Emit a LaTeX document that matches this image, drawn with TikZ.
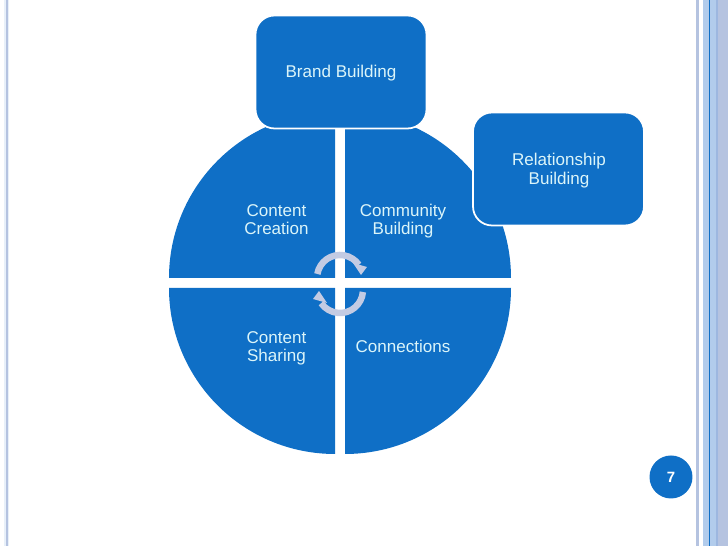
\documentclass[tikz,border=0pt]{standalone}
\usepackage{fontspec}
\setmainfont{Liberation Sans}
\usepackage{tikz}
\usetikzlibrary{positioning}
\usepackage{xcolor}
\definecolor{flowblue}{HTML}{0F6FC6}
\definecolor{flowtext}{HTML}{DBF5F9}
\definecolor{flowgrey}{HTML}{B5C3E0}
\definecolor{flowpale}{HTML}{B2CCEC}
\definecolor{flowmid}{HTML}{9DB7E0}
\definecolor{flowcycle}{HTML}{C3CBE3}
\tikzset{
  slice/.style={fill=flowblue},
  slicetext/.style={text=flowtext, align=center, font=\fontsize{9.7}{10.6}\selectfont},
  bigbox/.style={draw=white, line width=0.035cm, fill=flowblue, rounded corners=0.38cm, minimum width=3.42cm, minimum height=2.26cm, inner sep=0pt},
  cyclearrow/.style={draw=flowcycle, line width=0.13cm},
  cyclehead/.style={fill=flowcycle}
}
\begin{document}
\begin{tikzpicture}[x=0.02cm, y=0.02cm]
\useasboundingbox (0,0) rectangle (728,546);
% side stripes
\fill[flowpale!30] (4,0) rectangle (9,546);
\fill[flowgrey] (5.5,0) rectangle (8,546);
\fill[flowgrey] (696,0) rectangle (699,546);
\fill[flowpale] (703,0) rectangle (716,546);
\fill[flowblue] (709,0) rectangle (710,546);
\fill[flowmid] (716,0) rectangle (718,546);
\fill[flowgrey] (718,0) rectangle (728,546);
% four quarters
\fill[slice] (335,268) -- (169,268) arc (180:90:166) -- cycle;
\fill[slice] (345,268) -- (345,434) arc (90:0:166) -- cycle;
\fill[slice] (335,258) -- (335,92) arc (270:180:166) -- cycle;
\fill[slice] (345,258) -- (511,258) arc (0:-90:166) -- cycle;
% cycle arrows
\draw[cyclearrow] (317.35,272) arc (170:35:23);
\fill[cyclehead] (367,279) -- (361,271) -- (353,283) -- cycle;
\draw[cyclearrow] (362.9,254) arc (-5:-145:23);
\fill[cyclehead] (313,247) -- (319,255) -- (327,243) -- cycle;
\node[bigbox] (brand) at (341,474) {};
\node[bigbox] (relation) at (558.5,377) {};
\node[slicetext] (brandtext) at (341,473) {Brand Building};
\node[slicetext] (relationtext) at (559,375.5) {Relationship\\Building};
\node[slicetext] (creation) at (276.5,326.5) {Content\\Creation};
\node[slicetext] (community) at (403,325) {Community\\Building};
\node[slicetext] (sharing) at (276.5,197.5) {Content\\Sharing};
\node[slicetext] (connections) at (403,199.5) {Connections};
\node[circle, fill=flowblue, text=white, minimum size=0.86cm, inner sep=0pt, font=\fontsize{8.5}{10}\selectfont\bfseries] (pagenum) at (671,69) {7};
\end{tikzpicture}
\end{document}
